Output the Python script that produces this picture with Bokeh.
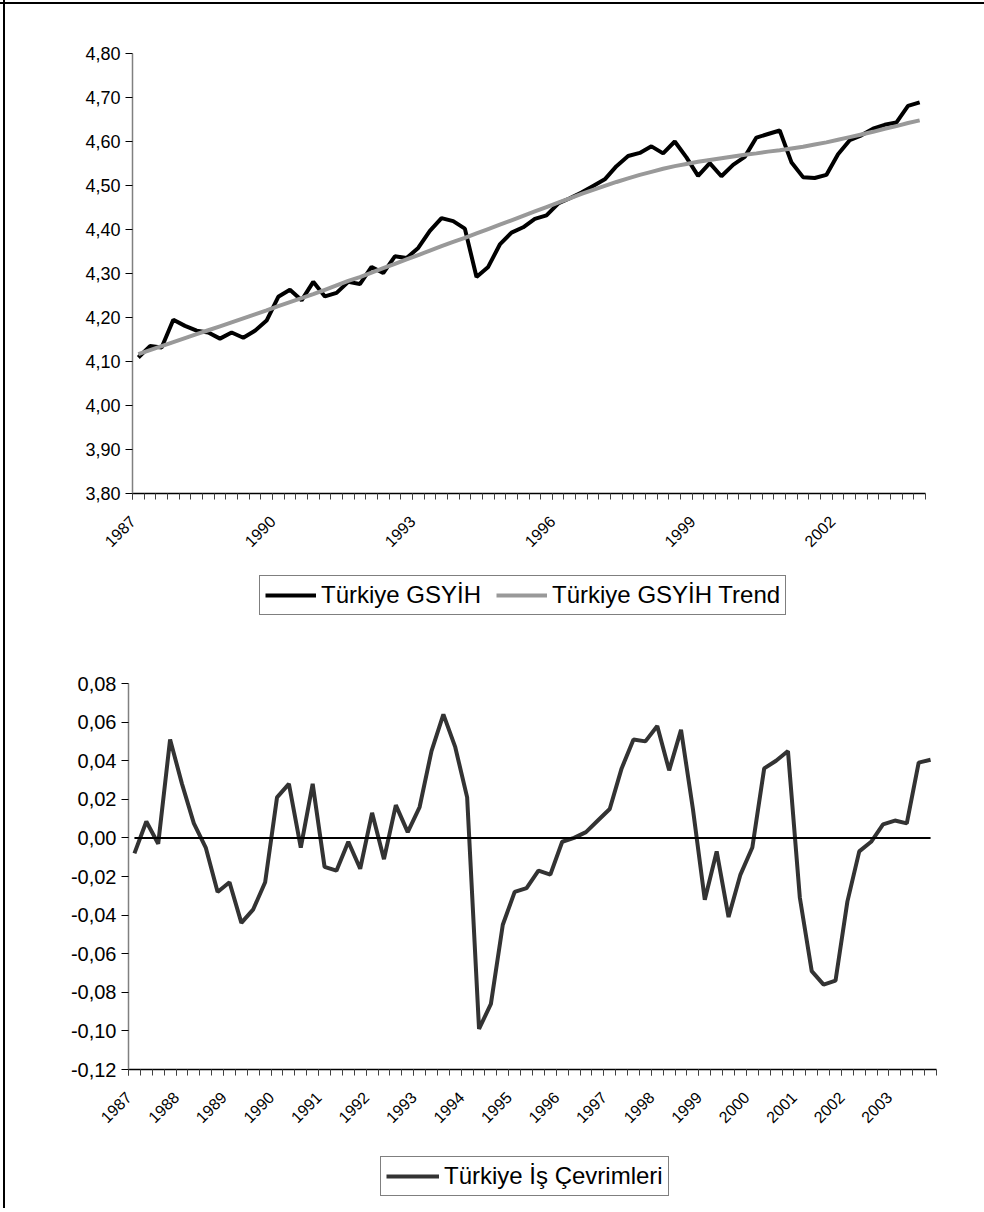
import math
from bokeh.plotting import figure
from bokeh.models import Range1d, FixedTicker, CustomJSTickFormatter, Legend, LegendItem
from bokeh.embed import file_html
from bokeh.resources import INLINE

N_QUARTERS = 68  # 1987Q1 .. 2003Q4

top_tick_pos = [0, 12, 24, 36, 48, 60]
top_tick_labels = ["1987", "1990", "1993", "1996", "1999", "2002"]
bottom_tick_pos = [0, 4, 8, 12, 16, 20, 24, 28, 32, 36, 40, 44, 48, 52, 56, 60, 64]
bottom_tick_labels = ["1987", "1988", "1989", "1990", "1991", "1992", "1993", "1994", "1995",
                      "1996", "1997", "1998", "1999", "2000", "2001", "2002", "2003"]
top_y_ticks = [3.80, 3.90, 4.00, 4.10, 4.20, 4.30, 4.40, 4.50, 4.60, 4.70, 4.80]
bottom_y_ticks = [-0.12, -0.10, -0.08, -0.06, -0.04, -0.02, 0.00, 0.02, 0.04, 0.06, 0.08]

gdp = [4.109, 4.135, 4.132, 4.195, 4.181, 4.170, 4.166, 4.152, 4.166, 4.154,
       4.170, 4.193, 4.247, 4.263, 4.239, 4.281, 4.248, 4.256, 4.281, 4.276,
       4.315, 4.301, 4.339, 4.335, 4.358, 4.397, 4.426, 4.419, 4.402, 4.292,
       4.315, 4.366, 4.393, 4.405, 4.424, 4.432, 4.459, 4.471, 4.484, 4.499,
       4.514, 4.544, 4.567, 4.574, 4.589, 4.573, 4.600, 4.564, 4.522, 4.551,
       4.521, 4.547, 4.565, 4.609, 4.617, 4.625, 4.553, 4.519, 4.517, 4.524,
       4.571, 4.603, 4.614, 4.629, 4.638, 4.643, 4.681, 4.689]

trend = [4.117, 4.126, 4.135, 4.144, 4.153, 4.162, 4.171, 4.180, 4.189, 4.198,
         4.207, 4.216, 4.226, 4.235, 4.244, 4.253, 4.263, 4.273, 4.283, 4.292,
         4.302, 4.312, 4.322, 4.332, 4.342, 4.352, 4.362, 4.372, 4.381, 4.391,
         4.401, 4.411, 4.421, 4.431, 4.441, 4.451, 4.461, 4.471, 4.481, 4.490,
         4.499, 4.508, 4.516, 4.524, 4.531, 4.538, 4.544, 4.549, 4.554, 4.558,
         4.562, 4.566, 4.570, 4.573, 4.577, 4.580, 4.584, 4.588, 4.593, 4.598,
         4.604, 4.610, 4.616, 4.622, 4.629, 4.635, 4.642, 4.648]

cycle = [-0.008, 0.0085, -0.003, 0.051, 0.028, 0.0075, -0.005, -0.028, -0.023, -0.044,
         -0.037, -0.023, 0.021, 0.028, -0.005, 0.028, -0.015, -0.017, -0.002, -0.016,
         0.013, -0.011, 0.017, 0.003, 0.016, 0.045, 0.064, 0.047, 0.021, -0.099,
         -0.086, -0.045, -0.028, -0.026, -0.017, -0.019, -0.002, 0.000, 0.003, 0.009,
         0.015, 0.036, 0.051, 0.050, 0.058, 0.035, 0.056, 0.015, -0.032, -0.007,
         -0.041, -0.019, -0.005, 0.036, 0.040, 0.045, -0.031, -0.069, -0.076, -0.074,
         -0.033, -0.007, -0.002, 0.007, 0.009, 0.0075, 0.039, 0.0405]

FONT = "Liberation Sans"
GDP_COLOR, TREND_COLOR, CYCLE_COLOR = "black", "#999999", "#333333"
xc = [i + 0.5 for i in range(N_QUARTERS)]  # category centres

LEFT_RULE = "linear-gradient(#000, #000) 3px 0 / 2px 100% no-repeat"
TOP_RULE = "linear-gradient(#000, #000) 0 2px / 100% 2px no-repeat"
FRAME_TOP_LEFT = {"background": LEFT_RULE + ", " + TOP_RULE}
FRAME_LEFT = {"background": LEFT_RULE}


def style(p, tick_pos, tick_labels, yticks, y_font_size, x_font_size):
    p.grid.visible = False
    p.outline_line_color = None
    p.background_fill_color = "white"
    p.border_fill_alpha = 0
    ya = p.yaxis[0]
    ya.ticker = FixedTicker(ticks=yticks)
    ya.formatter = CustomJSTickFormatter(code="return tick.toFixed(2).replace('.', ',');")
    ya.axis_line_color = "#808080"
    ya.axis_line_width = 1.5
    ya.major_tick_line_color = "black"
    ya.major_tick_out = 7
    ya.major_tick_in = 0
    ya.minor_tick_line_color = None
    ya.major_label_text_font = FONT
    ya.major_label_text_font_size = y_font_size
    ya.major_label_text_color = "black"
    ya.major_label_standoff = 5
    xa = p.xaxis[0]
    xa.ticker = FixedTicker(ticks=tick_pos, minor_ticks=list(range(N_QUARTERS + 1)))
    xa.major_label_overrides = {pos: lab for pos, lab in zip(tick_pos, tick_labels)}
    xa.axis_line_color = "black"
    xa.axis_line_width = 1.5
    xa.major_tick_line_color = "#404040"
    xa.minor_tick_line_color = "#404040"
    xa.major_tick_out = 6
    xa.major_tick_in = 0
    xa.minor_tick_out = 6
    xa.minor_tick_in = 0
    xa.major_label_orientation = math.pi / 4
    xa.major_label_text_font = FONT
    xa.major_label_text_font_size = x_font_size
    xa.major_label_text_color = "black"
    xa.major_label_standoff = 19


def legend_figure(left, top, frame_w, frame_h, bottom, right):
    f = figure(frame_width=frame_w, frame_height=frame_h,
               min_border_left=left, min_border_top=top, min_border_right=right,
               min_border_bottom=bottom,
               x_range=Range1d(0, 1), y_range=Range1d(-2, -1),
               x_axis_location=None, y_axis_location=None,
               output_backend="svg", toolbar_location=None, styles=FRAME_LEFT)
    f.grid.visible = False
    f.outline_line_color = None
    f.background_fill_alpha = 0
    f.border_fill_alpha = 0
    return f


def make_legend(items, glyph_w):
    return Legend(items=items, orientation="horizontal", location="top_left", margin=0,
                  glyph_width=glyph_w, glyph_height=26, label_height=26, label_standoff=5,
                  spacing=15, padding=5, border_line_color="black", border_line_width=1,
                  background_fill_color="white", background_fill_alpha=1,
                  label_text_font=FONT, label_text_font_size="24px", label_text_color="black")


# ---------- top chart ----------
p1 = figure(frame_width=793, frame_height=440,
            min_border_left=132, min_border_right=59, min_border_top=53, min_border_bottom=77,
            x_range=Range1d(0, N_QUARTERS), y_range=Range1d(3.8, 4.8),
            output_backend="svg", toolbar_location=None, styles=FRAME_TOP_LEFT)
style(p1, top_tick_pos, top_tick_labels, top_y_ticks, "18px", "16px")
p1.line(xc, gdp, line_color=GDP_COLOR, line_width=4)
p1.line(xc, trend, line_color=TREND_COLOR, line_width=4)

# legend strip of the top chart (its series lie outside this strip's ranges)
l1 = legend_figure(259, 5, 560, 40, 5, 158)
lg_gdp = l1.line(xc, gdp, line_color=GDP_COLOR, line_width=4)
lg_trend = l1.line(xc, trend, line_color=TREND_COLOR, line_width=4)
l1.add_layout(make_legend([LegendItem(label="Türkiye GSYİH", renderers=[lg_gdp]),
                           LegendItem(label="Türkiye GSYİH Trend", renderers=[lg_trend])], 51))

# ---------- bottom chart ----------
p2 = figure(frame_width=808, frame_height=386,
            min_border_left=128, min_border_right=41, min_border_top=63, min_border_bottom=81,
            x_range=Range1d(0, N_QUARTERS), y_range=Range1d(-0.12, 0.08),
            output_backend="svg", toolbar_location=None, styles=FRAME_LEFT)
style(p2, bottom_tick_pos, bottom_tick_labels, bottom_y_ticks, "20px", "16px")
p2.line(xc, cycle, line_color=CYCLE_COLOR, line_width=4)
p2.line([xc[0], xc[-1]], [0, 0], line_color="black", line_width=2)

l2 = legend_figure(380, 6, 330, 40, 12, 267)
lg_cycle = l2.line(xc, cycle, line_color=CYCLE_COLOR, line_width=4)
l2.add_layout(make_legend([LegendItem(label="Türkiye İş Çevrimleri", renderers=[lg_cycle])], 53))

open("out.html", "w").write(file_html([p1, l1, p2, l2], INLINE, title="Türkiye GSYİH"))
